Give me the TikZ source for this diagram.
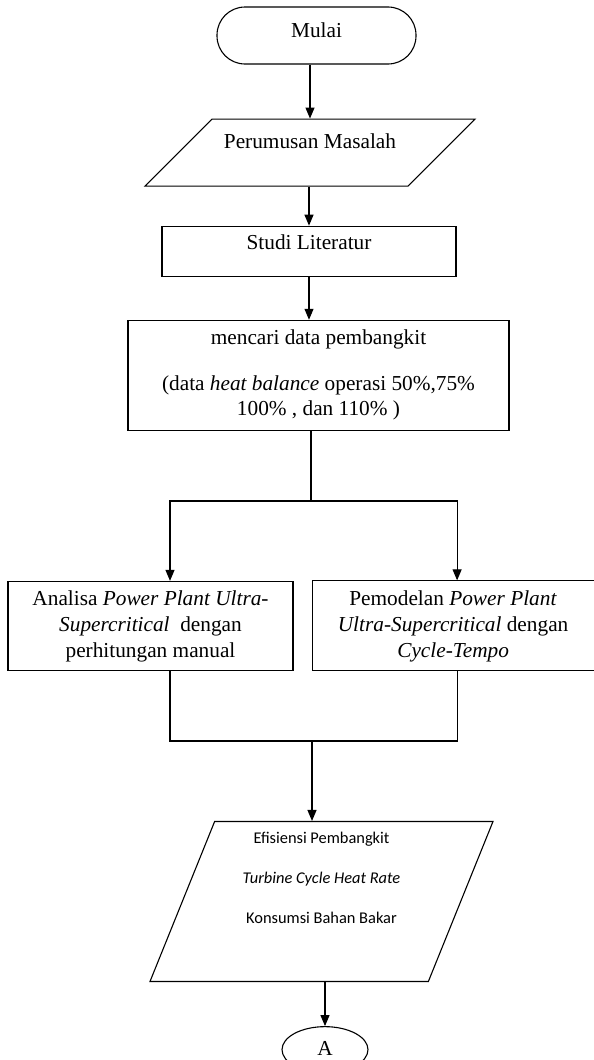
\documentclass[tikz,border=0pt]{standalone}
\usepackage{fontspec}
\setmainfont{Liberation Serif}
\newfontfamily\carlito{Carlito}
\usepackage{tikz}
\usetikzlibrary{arrows.meta, shapes.geometric, positioning}

\begin{document}
\begin{tikzpicture}[x=1pt, y=-1pt, line width=1.1pt, >={Triangle[length=11pt, width=9pt]},
    font=\fontsize{21.3}{26}\selectfont,
    terminal/.style={draw, rectangle, rounded corners=28pt, minimum width=199pt, inner ysep=0pt, text height=30pt, text depth=27pt},
    inputbox/.style={draw, trapezium, trapezium left angle=45, trapezium right angle=135, trapezium stretches body, minimum width=330pt, inner ysep=0pt, text height=29pt, text depth=38pt},
    processbox/.style={draw, rectangle, align=center, inner ysep=0pt},
    outputbox/.style={draw, trapezium, trapezium left angle=68, trapezium right angle=112, trapezium stretches body, minimum width=343pt, inner ysep=0pt, text height=22pt, text depth=138pt, font=\carlito\fontsize{16.4}{20}\selectfont},
    connector/.style={draw, ellipse, minimum width=86pt, minimum height=46pt, inner sep=0pt, text height=14pt, text depth=2pt}]
    \useasboundingbox (0,0) rectangle (594,1060);

    \node[terminal] (mulai) at (316.5,35.5) {Mulai};
    \node[inputbox, below=54pt of mulai, xshift=-6.5pt] (rumusan) {Perumusan Masalah};
    \node[processbox, minimum width=294pt, text height=23pt, text depth=27pt, below=39pt of rumusan, xshift=-1pt] (studi) {Studi Literatur};
    \node[processbox, minimum width=381pt, minimum height=110pt, below=43pt of studi, xshift=9.5pt] (data) {mencari data pembangkit\\[20pt] (data \textit{heat balance} operasi 50\%,75\%\\[-1pt] 100\% , dan 110\% )};
    \node[processbox, minimum width=285pt, minimum height=89pt, below=150pt of data, xshift=-168pt] (analisa) {Analisa \textit{Power Plant Ultra-}\\ \textit{Supercritical}~ dengan\\ perhitungan manual};
    \node[processbox, minimum width=282pt, minimum height=90pt, right=18pt of analisa] (pemodelan) {Pemodelan \textit{Power Plant}\\ \textit{Ultra-Supercritical} dengan\\ \textit{Cycle-Tempo}};
    \node[outputbox, below=150pt of analisa, xshift=171pt] (hasil) {\begin{tabular}[t]{@{}c@{}}Efisiensi Pembangkit\\[20pt] \textit{Turbine Cycle Heat Rate}\\[20pt] Konsumsi Bahan Bakar\end{tabular}};
    \node[connector, below=44pt of hasil, xshift=3.5pt] (konektorA) {A};

    \coordinate (split) at (311,501);
    \coordinate (join) at (312,741);

    \draw[->] (mulai.south -| rumusan.north) -- (rumusan.north);
    \draw[->] (rumusan.south -| studi.north) -- (studi.north);
    \draw[->] (studi.south) -- (studi.south |- data.north);
    \draw (data.south -| split) -- (split);
    \draw[->] (split) -| ([xshift=19.5pt]analisa.north);
    \draw[->] (split) -| ([xshift=4pt]pemodelan.north);
    \draw ([xshift=19.5pt]analisa.south) |- (join);
    \draw ([xshift=4pt]pemodelan.south) |- (join);
    \draw[->] (join) -- (join |- hasil.north);
    \draw[->] (hasil.south -| konektorA.north) -- (konektorA.north);
\end{tikzpicture}
\end{document}
